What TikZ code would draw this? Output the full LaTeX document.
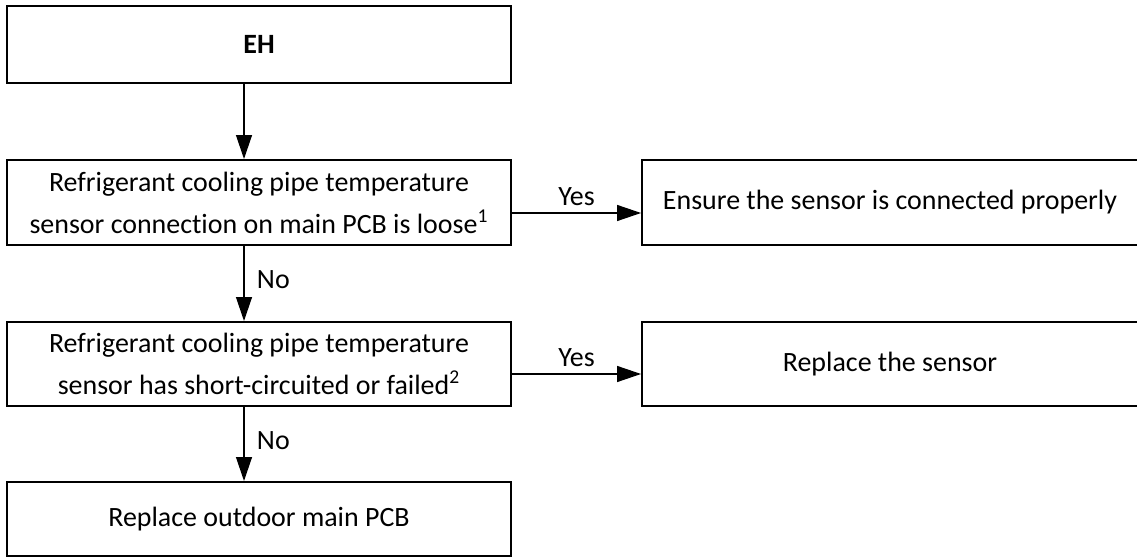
\documentclass[tikz,border=0pt]{standalone}
\usepackage{fontspec}
\setmainfont{Carlito}[Ligatures={NoCommon}]
\usepackage{tikz}
\usetikzlibrary{arrows.meta,positioning}
\definecolor{FCline}{RGB}{0,0,0}
\definecolor{FCtext}{RGB}{0,0,0}
\tikzset{
  box/.style={draw=FCline,line width=1.15pt,fill=white,text=FCtext,align=center,
              inner sep=0pt,font=\fontsize{15.9}{23.9}\selectfont,minimum width=10.08cm},
  rbox/.style={box,minimum width=9.92cm},
  fl/.style={-{Triangle[length=0.48cm,width=0.32cm]},line width=0.75pt,draw=FCline},
  lbl/.style={font=\fontsize{15.9}{19}\selectfont,text=FCtext,inner sep=2pt}
}
\begin{document}
\begin{tikzpicture}[x=0.02cm,y=-0.02cm]
  \clip (0,0) rectangle (1137,557);
  \node[box,minimum height=1.54cm] (eh) at (259,44.5) {\textbf{EH}};
  \node[box,minimum height=1.7cm] (loose) at (259,202.5) {Refrigerant cooling pipe temperature\\sensor connection on main PCB is loose\textsuperscript{1}};
  \node[rbox,minimum height=1.7cm] (connect) at (890,202.5) {Ensure the sensor is connected properly};
  \node[box,minimum height=1.68cm] (failed) at (259,364) {Refrigerant cooling pipe temperature\\sensor has short-circuited or failed\textsuperscript{2}};
  \node[rbox,minimum height=1.68cm] (sensor) at (890,364) {Replace the sensor};
  \node[box,minimum height=1.48cm] (pcb) at (259,519) {Replace outdoor main PCB};
  \draw[fl] ([xshift=-0.3cm]eh.south) -- ([xshift=-0.3cm]loose.north);
  \draw[fl] ([yshift=-0.21cm]loose.east) -- node[lbl,above,yshift=2pt] {Yes} ([yshift=-0.21cm]connect.west);
  \draw[fl] ([xshift=-0.3cm]loose.south) -- node[lbl,right,xshift=5pt,yshift=2pt] {No} ([xshift=-0.3cm]failed.north);
  \draw[fl] ([yshift=-0.2cm]failed.east) -- node[lbl,above,yshift=2pt] {Yes} ([yshift=-0.2cm]sensor.west);
  \draw[fl] ([xshift=-0.3cm]failed.south) -- node[lbl,right,xshift=5pt,yshift=2pt] {No} ([xshift=-0.3cm]pcb.north);
\end{tikzpicture}
\end{document}
